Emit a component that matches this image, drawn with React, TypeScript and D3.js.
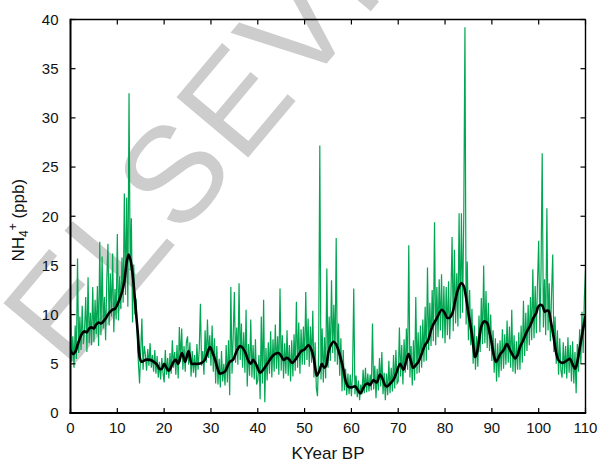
import React from "react";
import * as d3 from "d3";

const W = 599;
const H = 467;

const xTicks = [0, 10, 20, 30, 40, 50, 60, 70, 80, 90, 100, 110];
const yTicks = [0, 5, 10, 15, 20, 25, 30, 35, 40];

// Raw NH4+ record, one value every 0.25 kyr from 0 to 110
const rawStep = 0.25;
const rawValues: number[] = [
  // 0-4.75
  10.5, 5.2, 7.8, 4.6, 8.9, 5.5, 15.7, 6.1, 9.8, 6.4, 10.9, 7.0, 8.4, 11.8, 6.2, 13.8, 7.1, 10.2, 6.9, 12.8,
  // 5-9.75
  7.2, 11.5, 8.0, 12.9, 6.8, 17.4, 7.9, 15.9, 8.6, 11.8, 7.4, 13.6, 17.2, 8.9, 14.2, 9.8, 16.2, 8.2, 12.6, 9.5,
  // 10-14.75
  18.2, 9.4, 13.9, 10.6, 15.8, 11.2, 22.3, 12.0, 21.9, 10.8, 32.5, 14.5, 19.8, 9.2, 15.1, 10.0, 11.6, 7.8, 5.1, 3.0,
  // 15-19.75
  6.3, 9.6, 4.4, 6.8, 5.9, 4.3, 6.5, 4.8, 7.1, 4.6, 5.9, 4.2, 6.4, 4.0, 5.8, 3.6, 5.2, 3.4, 5.6, 4.1,
  // 20-24.75
  3.1, 6.4, 3.9, 5.6, 3.5, 6.1, 4.0, 7.4, 4.6, 6.2, 3.9, 6.9, 3.5, 8.75, 5.2, 8.6, 4.4, 6.8, 4.2, 7.2,
  // 25-29.75
  7.8, 4.9, 7.2, 3.7, 6.3, 4.1, 5.9, 3.6, 7.0, 4.4, 6.5, 11.1, 4.8, 6.3, 3.9, 8.4, 5.1, 9.5, 5.6, 7.9,
  // 30-34.75
  4.8, 8.9, 4.2, 7.6, 3.0, 6.8, 2.9, 5.5, 2.6, 6.3, 3.2, 5.0, 2.8, 6.9, 3.1, 7.4, 1.8, 12.8, 4.0, 7.8,
  // 35-39.75
  12.3, 5.1, 8.7, 4.9, 13.2, 5.4, 9.1, 4.6, 8.2, 4.1, 10.5, 2.7, 7.0, 3.8, 9.5, 3.6, 6.9, 3.4, 7.5, 2.9,
  // 40-44.75
  3.3, 5.9, 1.4, 9.8, 3.0, 11.5, 1.1, 6.6, 3.3, 7.2, 4.0, 8.3, 3.6, 7.5, 4.2, 9.0, 4.5, 7.8, 3.9, 12.65,
  // 45-49.75
  4.3, 7.9, 3.5, 7.1, 4.0, 8.4, 3.8, 6.9, 3.2, 7.4, 3.7, 8.0, 4.3, 11.3, 4.6, 9.2, 4.0, 8.5, 4.9, 8.8,
  // 50-54.75
  4.9, 12.3, 5.4, 9.6, 4.7, 8.8, 5.1, 10.4, 3.6, 7.2, 2.6, 1.7, 5.9, 27.2, 3.4, 8.6, 3.1, 7.7, 3.5, 14.7,
  // 55-59.75
  4.6, 9.8, 5.3, 13.5, 6.1, 11.0, 5.2, 17.8, 4.9, 9.1, 3.8, 7.6, 2.2, 6.4, 2.3, 4.5, 1.8, 4.0, 1.9, 3.9,
  // 60-64.75
  1.7, 4.2, 12.65, 1.9, 3.8, 1.6, 3.3, 1.3, 2.9, 1.9, 4.4, 2.0, 4.6, 2.1, 4.0, 2.2, 3.9, 2.3, 9.1, 2.4,
  // 65-69.75
  4.8, 1.5, 4.5, 2.3, 5.6, 2.7, 6.2, 1.9, 4.1, 1.3, 4.0, 1.8, 5.3, 2.0, 4.6, 2.2, 5.9, 2.5, 6.4, 3.0,
  // 70-74.75
  3.2, 8.7, 3.7, 6.9, 2.9, 7.5, 4.1, 8.6, 4.4, 17.05, 3.6, 6.8, 2.8, 7.4, 3.3, 11.8, 4.0, 8.2, 4.1, 8.9,
  // 75-79.75
  4.6, 9.5, 5.2, 10.8, 5.3, 14.8, 6.4, 11.2, 6.8, 12.5, 7.3, 19.4, 6.9, 12.8, 7.7, 13.6, 8.4, 14.1, 7.6, 12.9,
  // 80-84.75
  7.1, 12.8, 7.9, 13.4, 7.5, 11.6, 17.9, 8.3, 16.6, 9.1, 14.2, 8.8, 20.3, 9.6, 20.3, 10.2, 20.1, 39.2, 9.0, 15.4,
  // 85-89.75
  7.4, 12.5, 6.9, 10.6, 5.0, 8.9, 4.4, 7.8, 4.7, 9.9, 6.2, 11.7, 7.0, 15.0, 7.1, 12.4, 6.6, 11.2, 6.3, 10.0,
  // 90-94.75
  5.3, 8.4, 4.1, 7.6, 3.2, 7.1, 3.6, 7.4, 4.3, 8.5, 4.5, 8.0, 4.9, 9.4, 5.1, 8.8, 4.6, 10.5, 4.2, 7.9,
  // 95-99.75
  4.0, 7.3, 4.4, 8.2, 4.4, 8.9, 5.1, 11.4, 5.8, 10.2, 6.3, 11.0, 6.9, 11.8, 7.4, 14.6, 7.6, 12.9, 8.1, 13.3,
  // 100-104.75
  17.5, 8.2, 14.4, 26.4, 8.7, 13.6, 7.9, 20.8, 8.4, 13.2, 7.3, 12.1, 16.1, 6.2, 9.8, 5.0, 8.4, 3.9, 7.6, 4.3,
  // 105-109.75
  3.6, 7.2, 4.0, 6.8, 3.5, 7.7, 4.1, 6.9, 3.2, 7.3, 3.0, 6.2, 2.0, 7.0, 4.2, 8.5, 5.0, 10.3, 6.1, 11.6,
  // 110
  14.5,
];

// Smoothed curve (kyr BP, ppb)
const smoothAge: number[] = [
  0, 0.5, 1, 1.5, 2, 2.5, 3, 3.5, 4, 4.5, 5, 5.5, 6, 6.5, 7, 7.5, 8, 8.5, 9, 9.5,
  10, 10.5, 11, 11.5, 12, 12.4, 12.8, 13.2, 13.6, 14, 14.4, 14.8, 15.2, 16, 17, 17.8, 18.5, 19, 19.5,
  20, 20.5, 21, 21.5, 22, 22.5, 23, 23.8, 24.5, 25.2, 25.9, 26.5, 27.3, 28, 28.7, 29.3, 29.8,
  30.3, 30.9, 31.5, 31.9, 32.5, 33, 33.5, 34, 34.7, 35.5, 36.2, 36.8, 37.3, 38, 38.5, 39, 39.6,
  40.5, 41, 41.6, 42.3, 43, 43.7, 44.4, 45, 45.5, 46.2, 46.8, 47.3, 48, 48.7, 49.3, 49.8,
  50.4, 50.8, 51.3, 51.9, 52.3, 52.6, 53.1, 53.7, 54.2, 54.6, 55.1, 55.6, 56.2, 56.7, 57.2, 57.8, 58.3, 58.8, 59.3,
  60, 60.8, 61.4, 61.9, 62.5, 63, 63.5, 64, 64.7, 65.4, 66.1, 66.7, 67.2, 67.6, 68.3, 69, 69.7,
  70.4, 71.1, 71.7, 72.2, 72.7, 73.2, 73.8, 74.3, 75, 75.7, 76.3, 77.2, 78.2, 79.3, 79.9,
  80.4, 81, 81.6, 82.2, 82.8, 83.5, 84, 84.4, 85, 85.7, 86.1, 86.4, 86.8, 87.2, 87.7, 88.3, 88.9, 89.5,
  90, 90.5, 90.9, 91.4, 91.8, 92.5, 93.2, 93.7, 94.2, 95, 95.5, 96, 96.7, 97.4, 98.2, 98.9, 99.5, 99.9,
  100.4, 100.8, 101.3, 101.7, 102.1, 102.6, 103.2, 103.7, 104.2, 104.9, 105.6, 106.2, 106.7, 107.2, 107.8,
  108.3, 108.8, 109.4, 110,
];
const smoothValue: number[] = [
  6.4, 6.0, 6.2, 6.9, 7.6, 8.1, 8.3, 8.2, 8.6, 8.7, 8.6, 9.0, 9.2, 9.1, 9.3, 9.6, 10.0, 10.3, 10.5, 10.6,
  11.0, 11.6, 12.3, 13.4, 15.3, 16.1, 15.6, 14.4, 12.5, 10.2, 8.0, 5.6, 5.2, 5.4, 5.4, 5.2, 4.9, 4.5, 4.5,
  5.0, 4.6, 4.3, 4.7, 5.2, 5.4, 5.0, 6.1, 5.2, 6.3, 5.0, 5.0, 5.0, 5.1, 5.4, 6.2, 6.7,
  6.2, 5.4, 4.4, 4.0, 4.1, 4.2, 4.7, 5.2, 5.4, 6.3, 6.8, 6.6, 6.2, 5.3, 5.0, 5.4, 5.0,
  4.1, 4.3, 4.7, 5.2, 5.7, 6.0, 6.1, 5.8, 5.4, 5.6, 5.4, 5.1, 5.4, 5.9, 6.3, 6.4,
  6.7, 6.9, 6.6, 5.7, 4.5, 3.8, 4.2, 5.0, 4.6, 4.8, 6.2, 6.9, 7.25, 7.0, 6.4, 5.4, 4.4, 3.2, 2.7,
  2.6, 2.7, 2.3, 2.0, 2.5, 2.9, 3.0, 2.85, 3.35, 3.1, 3.9, 3.4, 2.8, 2.7, 3.0, 3.4, 4.2,
  5.0, 4.4, 5.3, 6.0, 5.3, 4.6, 4.9, 5.2, 6.0, 6.9, 7.3, 8.7, 9.6, 10.5, 10.2,
  9.7, 9.7, 10.2, 11.5, 12.6, 13.2, 12.9, 12.0, 10.1, 8.1, 6.6, 5.7, 6.1, 7.2, 8.7, 9.3, 9.2, 8.2,
  7.0, 5.7, 5.2, 5.6, 6.0, 6.4, 7.0, 6.6, 6.1, 5.55, 5.9, 6.7, 7.4, 8.2, 8.9, 9.7, 10.2, 10.8,
  11.0, 10.9, 10.3, 10.4, 10.4, 9.3, 7.7, 6.2, 5.4, 5.1, 5.2, 5.4, 5.5, 5.0, 4.5,
  5.3, 6.7, 8.3, 9.9,
];

const FONT = "'Liberation Sans', Arial, Helvetica, sans-serif";

export default function App() {
  const left = 70.5;
  const right = 585.5;
  const top = 19.5;
  const bottom = 413;

  const x = d3.scaleLinear().domain([0, 110]).range([left, right]);
  const y = d3.scaleLinear().domain([0, 40]).range([bottom, top]);

  const raw = rawValues.map((v, i) => [i * rawStep, v] as [number, number]);
  const smooth = smoothAge.map((a, i) => [a, smoothValue[i]] as [number, number]);

  const rawLine = d3
    .line<[number, number]>()
    .x((d) => x(d[0]))
    .y((d) => y(d[1]));
  const smoothLine = d3
    .line<[number, number]>()
    .x((d) => x(d[0]))
    .y((d) => y(d[1]))
    .curve(d3.curveCatmullRom.alpha(0.5));

  const tickLen = 5;

  return (
    <svg
      width={W}
      height={H}
      style={{ position: "absolute", left: 0, top: 0, background: "#fff" }}
    >
      <defs>
        <clipPath id="pageClip">
          <rect x={0} y={0} width={W} height={H} />
        </clipPath>
        <clipPath id="plotClip">
          <rect x={left} y={top} width={right - left} height={bottom - top} />
        </clipPath>
      </defs>

      {/* watermark */}
      <g clipPath="url(#pageClip)">
        <text
          transform="translate(68,372) rotate(-50)"
          fontFamily={FONT}
          fontSize={136}
          fill="#cdcdcd"
          letterSpacing={4}
        >
          ELSEVIER
        </text>
      </g>

      <g clipPath="url(#plotClip)">
        <path d={rawLine(raw) || ""} fill="none" stroke="#00a651" strokeWidth={1.2} />
        <path d={smoothLine(smooth) || ""} fill="none" stroke="#000" strokeWidth={2.6} />
      </g>

      {/* frame */}
      <line x1={left} x2={right} y1={top} y2={top} stroke="#000" strokeWidth={1.4} />
      <line x1={right} x2={right} y1={top} y2={bottom} stroke="#000" strokeWidth={1.4} />
      <line x1={left} x2={left} y1={top - 0.7} y2={bottom + 1} stroke="#000" strokeWidth={2} />
      <line x1={left - 1} x2={right + 0.7} y1={bottom} y2={bottom} stroke="#000" strokeWidth={2} />

      {xTicks.map((t) => (
        <g key={"x" + t}>
          <line x1={x(t)} x2={x(t)} y1={bottom} y2={bottom - tickLen} stroke="#000" strokeWidth={1.2} />
          <line x1={x(t)} x2={x(t)} y1={top} y2={top + tickLen} stroke="#000" strokeWidth={1.2} />
          <text
            x={x(t)}
            y={bottom + 20}
            textAnchor="middle"
            fontFamily={FONT}
            fontSize={15}
            fill="#111"
          >
            {t}
          </text>
        </g>
      ))}
      {yTicks.map((t) => (
        <g key={"y" + t}>
          <line x1={left} x2={left + tickLen} y1={y(t)} y2={y(t)} stroke="#000" strokeWidth={1.2} />
          <line x1={right} x2={right - tickLen} y1={y(t)} y2={y(t)} stroke="#000" strokeWidth={1.2} />
          <text
            x={left - 12}
            y={y(t)}
            dy="0.36em"
            textAnchor="end"
            fontFamily={FONT}
            fontSize={15}
            fill="#111"
          >
            {t}
          </text>
        </g>
      ))}

      <text
        x={(left + right) / 2}
        y={459}
        textAnchor="middle"
        fontFamily={FONT}
        fontSize={17}
        fill="#111"
      >
        KYear BP
      </text>

      <text
        transform={`translate(24,${(top + bottom) / 2 + 4}) rotate(-90)`}
        textAnchor="middle"
        fontFamily={FONT}
        fontSize={17}
        fill="#111"
      >
        <tspan>NH</tspan>
        <tspan fontSize={12} dy={4}>4</tspan>
        <tspan fontSize={12} dy={-11}>+</tspan>
        <tspan dy={7}> (ppb)</tspan>
      </text>
    </svg>
  );
}
